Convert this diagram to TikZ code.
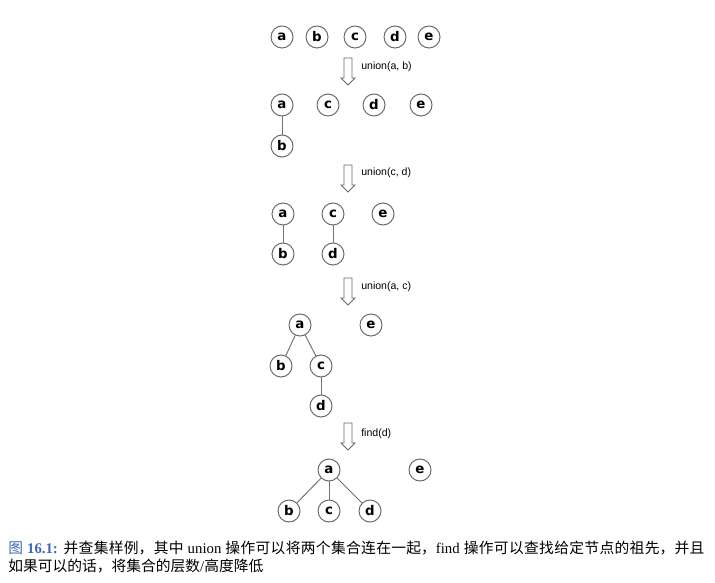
\documentclass[tikz,border=0pt]{standalone}
\usepackage{fontspec}
\setmainfont{Liberation Serif}
\setsansfont{Liberation Sans}
\newfontfamily\cjk{Noto Sans CJK SC}
\newfontfamily\letterfont{DejaVu Sans}
\XeTeXlinebreaklocale "zh"
\XeTeXlinebreakskip=0pt plus 1pt
\definecolor{capblue}{RGB}{64,104,184}
\definecolor{ringgray}{RGB}{105,105,105}
\definecolor{edgegray}{RGB}{115,115,115}
\newcommand{\blockarrow}[1]{%
\draw[ringgray,line width=0.6pt] ($(#1)+(-4,0)$)--($(#1)+(4,0)$)--($(#1)+(4,20)$)--($(#1)+(7,20)$)
  --($(#1)+(0,27)$)--($(#1)+(-7,20)$)--($(#1)+(-4,20)$)--cycle;}
\usetikzlibrary{calc}

\begin{document}
\begin{tikzpicture}[x=0.025cm,y=-0.025cm,
  elem/.style={circle,draw=ringgray,line width=0.7pt,fill=white,minimum size=0.55cm,inner sep=0pt,
    font=\letterfont\bfseries\fontsize{9.5}{10}\selectfont},
  link/.style={edgegray,line width=0.7pt},
  oplabel/.style={anchor=west,inner sep=0pt,font=\sffamily\fontsize{7.5}{9}\selectfont}]
\useasboundingbox (0,0) rectangle (715,583);
% start
\node[elem] (a1) at (282,37) {a};
\node[elem] (b1) at (317,37) {b};
\node[elem] (c1) at (355,37) {c};
\node[elem] (d1) at (395,37) {d};
\node[elem] (e1) at (429,37) {e};
\coordinate (s1) at (348,58);
\blockarrow{s1}
\node[oplabel] (o1) at (361,67) {union(a, b)};
% after union(a, b)
\node[elem] (a2) at (282,105) {a};
\node[elem] (c2) at (328,105) {c};
\node[elem] (d2) at (374,105) {d};
\node[elem] (e2) at (421,105) {e};
\node[elem] (b2) at (282,146) {b};
\draw[link] (a2)--(b2);
\coordinate (s2) at (348,165);
\blockarrow{s2}
\node[oplabel] (o2) at (361,173) {union(c, d)};
% after union(c, d)
\node[elem] (a3) at (283,214) {a};
\node[elem] (c3) at (333,214) {c};
\node[elem] (e3) at (383,214) {e};
\node[elem] (b3) at (283,254) {b};
\node[elem] (d3) at (333,254) {d};
\draw[link] (a3)--(b3);
\draw[link] (c3)--(d3);
\coordinate (s3) at (348,278);
\blockarrow{s3}
\node[oplabel] (o3) at (361,287) {union(a, c)};
% after union(a, c)
\node[elem] (a4) at (300,325) {a};
\node[elem] (e4) at (371,325) {e};
\node[elem] (b4) at (281,366) {b};
\node[elem] (c4) at (321,366) {c};
\node[elem] (d4) at (321,406) {d};
\draw[link] (a4)--(b4);
\draw[link] (a4)--(c4);
\draw[link] (c4)--(d4);
\coordinate (s4) at (348,423);
\blockarrow{s4}
\node[oplabel] (o4) at (361,434) {find(d)};
% after find(d)
\node[elem] (a5) at (329,470) {a};
\node[elem] (e5) at (420,470) {e};
\node[elem] (b5) at (289,511) {b};
\node[elem] (c5) at (329,511) {c};
\node[elem] (d5) at (370,511) {d};
\draw[link] (a5)--(b5);
\draw[link] (a5)--(c5);
\draw[link] (a5)--(d5);
% caption
\node[anchor=north west,inner sep=0pt,text width=17.4cm,align=justify,
  font=\fontsize{10.5}{12.5}\selectfont] (cap) at (8,541)
  {{\color{capblue}{\cjk 图} \textbf{16.1:}} {\cjk 并查集样例，其中} union {\cjk 操作可以将两个集合连在一起，}find {\cjk 操作可以查找给定节点的祖先，并且}\linebreak
  {\cjk 如果可以的话，将集合的层数}/{\cjk 高度降低}};
\end{tikzpicture}
\end{document}
